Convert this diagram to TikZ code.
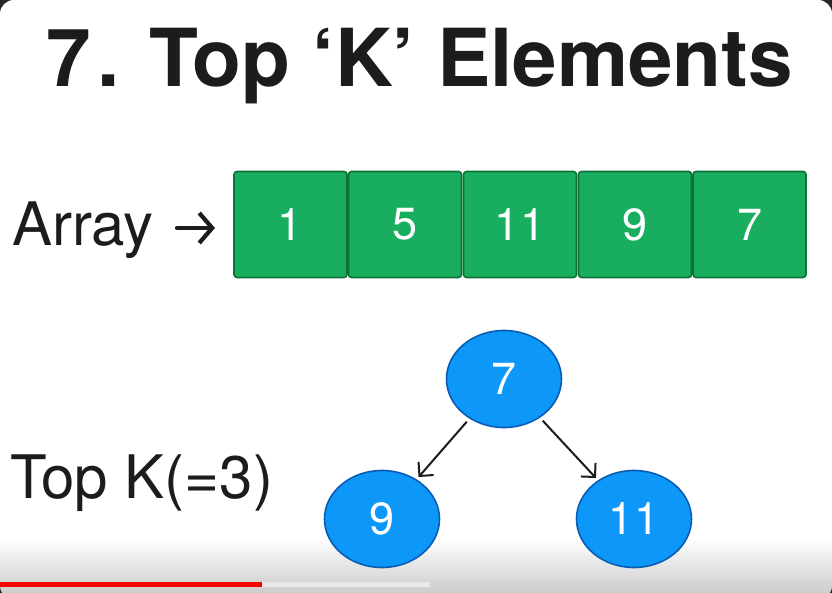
\documentclass[tikz,border=0pt]{standalone}
\usepackage{fontspec}
\setmainfont{TeX Gyre Heros}
\usetikzlibrary{shapes.geometric,arrows.meta}
\definecolor{ink}{HTML}{1C1C1C}
\definecolor{cellfill}{HTML}{19AE5F}
\definecolor{celledge}{HTML}{0C7236}
\definecolor{nodefill}{HTML}{0D97F8}
\definecolor{nodeedge}{HTML}{0A5CB2}
\definecolor{barred}{HTML}{FF0000}
\tikzset{
  cell/.style={draw=celledge, fill=cellfill, line width=1.6pt, rounded corners=3pt,
    minimum width=113pt, minimum height=106pt, inner sep=0pt, text=white,
    font=\fontsize{45}{45}\selectfont},
  heapnode/.style={ellipse, draw=nodeedge, fill=nodefill, line width=1.6pt,
    minimum width=115pt, minimum height=97pt, inner sep=0pt, text=white,
    font=\fontsize{45}{45}\selectfont},
  link/.style={draw=ink, line width=2pt, -{Straight Barb[length=10pt,width=20pt,line width=2pt]},
    shorten <=4pt, shorten >=3pt},
  pointer/.style={draw=ink, line width=4.2pt, line cap=round,
    -{Straight Barb[length=13pt,width=30pt,line width=4.2pt]}},
  label/.style={text=ink, inner sep=0pt, anchor=base west, font=\fontsize{60}{60}\selectfont}
}
\begin{document}
\begin{tikzpicture}[x=1pt,y=-1pt]
\useasboundingbox (0,0) rectangle (832,593);
% screen frame with rounded corners
\fill[black!85] (0,0) rectangle (832,593);
\fill[white, rounded corners=14pt] (0,0) rectangle (832,593);
% bottom shading of the video frame
\shade[top color=white, bottom color=black!20] (0,538) rectangle (832,593);
\fill[black!88, rounded corners=14pt] (0,593) rectangle (832,600);
\fill[white!91!black] (262,582) rectangle (430,587);
\fill[white!83!black] (430,582) rectangle (832,587);
\fill[barred] (0,582) rectangle (262,587);

% title
\node[anchor=base west, inner sep=0pt, text=ink, font=\fontsize{80}{80}\selectfont\bfseries]
  (title) at (46,87) {7\hspace{7pt}.\hspace{30pt}Top ‘K’ Elements};

% array row
\node[label] (arraylabel) at (12,246) {Array};
\coordinate (ptrstart) at (177,228);
\coordinate (ptrend) at (215,228);
\draw[pointer] (ptrstart) -- (ptrend);
\node[cell] (c1) at (290.5,224.5) {1};
\node[cell] (c2) at (405,224.5) {5};
\node[cell] (c3) at (520,224.5) {11};
\node[cell] (c4) at (635,224.5) {9};
\node[cell] (c5) at (749.5,224.5) {7};

% top k
\node[label] (toplabel) at (10,498) {Top K(=3)};
\node[heapnode] (root) at (504,379) {7};
\node[heapnode] (left) at (382,519) {9};
\node[heapnode] (right) at (634,519) {11};
\draw[link] (root) -- (left);
\draw[link] (root) -- (right);
\end{tikzpicture}
\end{document}
